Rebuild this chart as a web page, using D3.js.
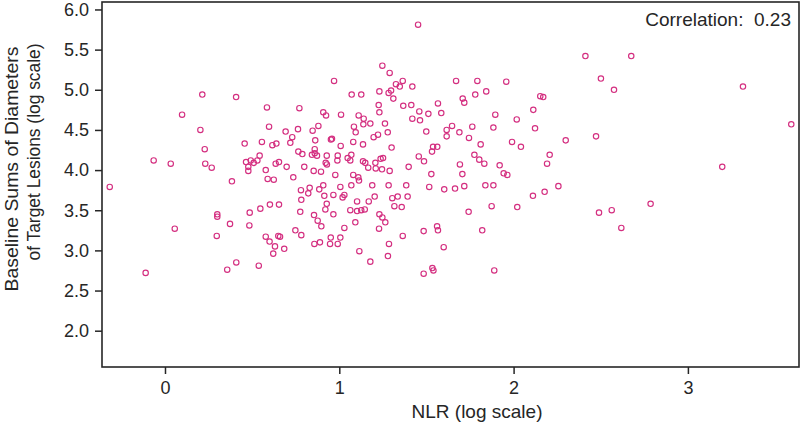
<!DOCTYPE html>
<html><head><meta charset="utf-8">
<script src="https://cdn.jsdelivr.net/npm/d3@7"></script>
<style>
body{margin:0;background:#fff}
svg{display:block}
text{font-family:"Liberation Sans",Arial,Helvetica,sans-serif;fill:#262626}
</style>
</head><body><svg id="c" width="800" height="425"></svg>
<script>
// NLR (log scale) values
const nlr = [
0.214,0.408,0.585,0.098,0.203,0.597,0.457,0.556,0.616,0.639,0.228,-0.065,0.033,0.231,0.268,0.543,0.465,0.492,0.509,0.530,0.478,0.478,0.635,0.654,0.578,0.384,0.589,0.624,-0.317,
0.602,0.654,0.547,0.486,0.300,0.300,0.373,0.484,0.056,0.297,0.578,0.650,0.600,0.631,0.621,0.409,0.357,0.538,-0.111,
1.452,1.247,1.289,0.970,1.364,1.325,1.347,1.419,1.670,1.297,1.283,1.230,1.310,1.071,1.126,0.771,1.226,1.230,1.367,1.413,1.566,0.908,0.924,1.010,1.111,1.140,1.459,1.511,1.585,1.419,1.463,0.880,1.084,1.138,1.178,1.262,0.692,0.763,0.847,1.094,1.278,1.499,1.616,1.647,1.616,1.689,0.730,0.719,0.862,0.958,0.952,1.080,1.136,1.197,1.222,1.008,1.300,1.538,1.562,1.532,0.765,0.788,0.859,0.859,0.843,0.872,0.928,0.991,1.069,1.048,1.063,0.989,0.922,0.929,1.136,1.149,1.207,1.237,1.251,1.456,1.486,0.698,0.799,1.166,1.209,1.245,1.289,1.398,0.853,0.895,0.977,1.080,1.109,1.113,1.528,0.736,0.780,0.830,0.885,0.908,1.006,1.069,1.189,1.283,1.384,1.516,1.602,1.664,
2.412,2.675,2.501,2.576,1.792,1.958,1.843,1.780,1.708,1.717,2.153,2.170,2.113,1.895,2.018,1.884,1.763,1.744,2.123,2.473,2.299,1.991,2.042,1.811,1.775,1.803,1.832,1.692,1.706,1.920,1.943,1.964,2.207,2.192,1.717,1.838,1.884,2.257,2.178,
2.111,1.742,1.874,2.021,2.490,2.563,2.618,1.820,1.889,
3.316,3.593,3.197,2.786,
0.822,0.914,0.966,1.019,1.029,0.782,0.776,0.928,0.920,0.855,0.876,0.897,0.966,1.102,1.169,1.203,1.063,1.102,1.126,1.146,1.092,1.029,1.304,1.335,1.392,1.316,1.358,1.230,1.247,1.264,1.228,1.364,1.285,1.279,1.115,1.178,0.748,0.782,0.660,0.684,0.857,0.889,0.951,0.947,0.991,1.006,1.484,1.561,1.566,1.599,1.484,1.534,1.540
];
// Baseline sums of diameters of target lesions (log scale)
const sld = [
4.94,4.91,4.78,4.69,4.50,4.54,4.33,4.35,4.31,4.33,4.26,4.12,4.08,4.08,4.03,4.18,4.10,4.12,4.09,4.12,4.04,3.99,4.08,4.10,4.00,3.86,3.89,3.88,3.79,
3.57,3.57,3.52,3.47,3.45,3.42,3.33,3.31,3.27,3.18,3.17,3.18,3.11,3.05,2.96,2.85,2.76,2.81,2.72,
5.81,5.30,5.21,5.11,5.11,5.07,5.04,5.04,5.11,4.99,4.96,4.98,4.89,4.94,4.94,4.77,4.81,4.72,4.80,4.81,4.83,4.72,4.68,4.69,4.68,4.64,4.73,4.70,4.71,4.64,4.62,4.55,4.54,4.57,4.58,4.58,4.48,4.51,4.49,4.47,4.47,4.48,4.50,4.55,4.42,4.47,4.41,4.34,4.37,4.39,4.38,4.35,4.32,4.41,4.44,4.30,4.28,4.29,4.29,4.23,4.23,4.20,4.26,4.21,4.19,4.18,4.18,4.18,4.19,4.15,4.12,4.12,4.09,4.07,4.11,4.09,4.09,4.14,4.15,4.17,4.11,4.04,4.04,4.03,4.02,4.01,3.99,4.04,3.99,3.98,3.94,3.94,3.91,3.87,3.95,3.91,3.75,3.78,3.76,3.81,3.79,3.81,3.81,3.81,3.81,3.79,3.76,3.77,
5.42,5.42,5.14,5.00,5.11,5.10,4.98,4.94,4.89,4.84,4.92,4.91,4.75,4.69,4.63,4.53,4.54,4.40,4.52,4.42,4.37,4.35,4.29,4.32,4.19,4.13,4.08,4.07,3.95,4.06,3.96,3.94,4.19,4.08,3.80,3.81,3.81,3.80,3.73,
3.68,3.48,3.55,3.54,3.47,3.50,3.28,3.25,2.75,
5.04,4.57,4.04,3.58,
3.71,3.68,3.69,3.66,3.69,3.63,3.48,3.58,3.51,3.44,3.37,3.30,3.45,3.61,3.61,3.67,3.50,3.49,3.50,3.51,3.35,3.28,3.65,3.67,3.67,3.55,3.54,3.45,3.41,3.35,3.27,3.18,3.08,2.93,2.99,2.86,3.25,3.19,3.17,3.02,3.08,3.10,3.16,3.08,3.08,3.16,3.24,3.30,3.25,3.04,2.71,2.78,2.75
];
const xTicks = [0, 1, 2, 3];
const yTicks = [2.0, 2.5, 3.0, 3.5, 4.0, 4.5, 5.0, 5.5, 6.0];
const xTitle = "NLR (log scale)";
const yTitle = ["Baseline Sums of Diameters", "of Target Lesions (log scale)"];
const corrLabel = "Correlation:  0.23";

const svg = d3.select("#c");
const L = 102, R = 799, T = 2, B = 367;
const x = d3.scaleLinear().domain([-0.3614, 3.6374]).range([L, R]);
const y = d3.scaleLinear().domain([1.548, 6.093]).range([B, T]);
const ink = "#262626";

// points
const pts = nlr.map((v, i) => ({x: v, y: sld[i]}));
svg.append("g").selectAll("circle").data(pts).join("circle")
  .attr("cx", d => x(d.x)).attr("cy", d => y(d.y)).attr("r", 2.7)
  .attr("fill", "none").attr("stroke", "#d42f80").attr("stroke-width", 1.15);

// axes
const xa = svg.append("g").attr("transform", `translate(0,${B})`)
  .call(d3.axisBottom(x).tickValues(xTicks).tickFormat(d3.format("d")).tickSize(7).tickPadding(7));
const ya = svg.append("g").attr("transform", `translate(${L},0)`)
  .call(d3.axisLeft(y).tickValues(yTicks).tickFormat(d3.format(".1f")).tickSize(7).tickPadding(6));
[xa, ya].forEach(g => {
  g.select(".domain").remove();
  g.selectAll(".tick line").attr("stroke", ink).attr("stroke-width", 1.5);
  g.selectAll(".tick text").attr("fill", ink).style("font-size", "18px")
    .style("font-family", '"Liberation Sans",Arial,sans-serif');
});

// frame
svg.append("rect").attr("x", L).attr("y", T).attr("width", R - L).attr("height", B - T)
  .attr("fill", "none").attr("stroke", ink).attr("stroke-width", 1.6);

// titles
svg.append("text").attr("x", (L + R) / 2 + 26.5).attr("y", 418).attr("text-anchor", "middle")
  .style("font-size", "19px").text(xTitle);
svg.append("text").attr("transform", "translate(18,169) rotate(-90)").attr("text-anchor", "middle")
  .attr("textLength", 245).attr("lengthAdjust", "spacingAndGlyphs")
  .style("font-size", "19px").text(yTitle[0]);
svg.append("text").attr("transform", "translate(40,152) rotate(-90)").attr("text-anchor", "middle")
  .attr("textLength", 217).attr("lengthAdjust", "spacingAndGlyphs")
  .style("font-size", "19px").text(yTitle[1]);
svg.append("text").attr("x", 791).attr("y", 26).attr("text-anchor", "end")
  .style("font-size", "19px").style("white-space", "pre").attr("xml:space", "preserve").text(corrLabel);
</script>
</body></html>
